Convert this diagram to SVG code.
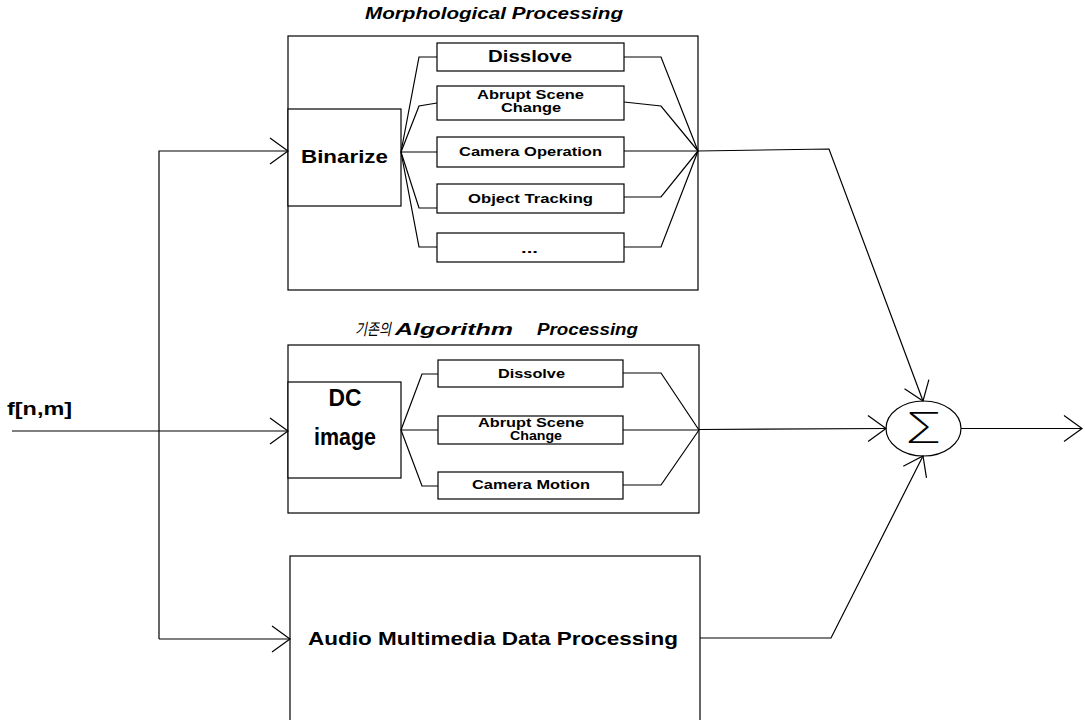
<svg xmlns="http://www.w3.org/2000/svg" width="1085" height="720" viewBox="0 0 1085 720">
<defs>
<style>
.box{fill:#fff;stroke:#000;stroke-width:1.2}
.ln{fill:none;stroke:#000;stroke-width:1.2}
.t{font-family:"Liberation Sans",Arial,sans-serif;font-weight:bold;fill:#000}
.ti{font-family:"Liberation Sans",Arial,"Noto Sans CJK KR",sans-serif;font-weight:bold;font-style:italic;fill:#000}
.s{font-size:13px}
</style>
<marker id="arr" viewBox="-20 -15 22 30" refX="0" refY="0" markerWidth="22" markerHeight="30" markerUnits="userSpaceOnUse" orient="auto">
<path d="M-18,-13 L0,0 L-18,13" fill="none" stroke="#000" stroke-width="1.2"/>
</marker>
</defs>
<rect width="1085" height="720" fill="#fff"/>

<g id="morph">
<text class="ti" x="365" y="19" font-size="16" textLength="258" lengthAdjust="spacingAndGlyphs">Morphological Processing</text>
<rect class="box" x="288" y="36" width="410" height="254"/>
<g id="binarize">
<rect class="box" x="288" y="109" width="113" height="97"/>
<text class="t" x="301" y="163" font-size="19" textLength="87" lengthAdjust="spacingAndGlyphs">Binarize</text>
</g>
<g id="m-disslove">
<rect class="box" x="437" y="43" width="187" height="28"/>
<text class="t" x="488" y="62" font-size="17" textLength="84" lengthAdjust="spacingAndGlyphs">Disslove</text>
</g>
<g id="m-abrupt">
<rect class="box" x="437" y="86" width="187" height="34"/>
<text class="t s" x="477" y="99" textLength="107" lengthAdjust="spacingAndGlyphs">Abrupt Scene</text>
<text class="t s" x="501" y="112" textLength="60" lengthAdjust="spacingAndGlyphs">Change</text>
</g>
<g id="m-camera">
<rect class="box" x="437" y="137" width="187" height="30"/>
<text class="t s" x="459" y="156" textLength="143" lengthAdjust="spacingAndGlyphs">Camera Operation</text>
</g>
<g id="m-object">
<rect class="box" x="437" y="184" width="187" height="29"/>
<text class="t s" x="468" y="203" textLength="125" lengthAdjust="spacingAndGlyphs">Object Tracking</text>
</g>
<g id="m-more">
<rect class="box" x="437" y="233" width="187" height="29"/>
<text class="t s" x="521" y="253" textLength="17" lengthAdjust="spacingAndGlyphs">...</text>
</g>
</g>

<g id="legacy">
<text class="ti" y="335" font-size="16"><tspan x="355" font-weight="normal" textLength="36" lengthAdjust="spacingAndGlyphs">기존의</tspan><tspan x="395" textLength="118" lengthAdjust="spacingAndGlyphs">Algorithm</tspan><tspan x="537" textLength="101" lengthAdjust="spacingAndGlyphs">Processing</tspan></text>
<rect class="box" x="288" y="345" width="411" height="168"/>
<g id="dcimage">
<rect class="box" x="288" y="382" width="113" height="96"/>
<text class="t" x="345" y="406" font-size="23" text-anchor="middle" textLength="33" lengthAdjust="spacingAndGlyphs">DC</text>
<text class="t" x="345" y="445" font-size="23" text-anchor="middle" textLength="62" lengthAdjust="spacingAndGlyphs">image</text>
</g>
<g id="d-dissolve">
<rect class="box" x="438" y="360" width="185" height="27"/>
<text class="t s" x="498" y="378" textLength="67" lengthAdjust="spacingAndGlyphs">Dissolve</text>
</g>
<g id="d-abrupt">
<rect class="box" x="438" y="416" width="185" height="28"/>
<text class="t s" x="478" y="427" textLength="106" lengthAdjust="spacingAndGlyphs">Abrupt Scene</text>
<text class="t s" x="510" y="440" textLength="52" lengthAdjust="spacingAndGlyphs">Change</text>
</g>
<g id="d-camera">
<rect class="box" x="438" y="472" width="185" height="27"/>
<text class="t s" x="472" y="489" textLength="118" lengthAdjust="spacingAndGlyphs">Camera Motion</text>
</g>
</g>

<g id="audio">
<rect class="box" x="290" y="556" width="410" height="175"/>
<text class="t" x="308" y="645" font-size="19" textLength="370" lengthAdjust="spacingAndGlyphs">Audio Multimedia Data Processing</text>
</g>

<g id="input">
<text class="t" x="7" y="415" font-size="18" textLength="65" lengthAdjust="spacingAndGlyphs">f[n,m]</text>
</g>

<g id="sum">
<ellipse class="box" cx="923.5" cy="428.5" rx="37.5" ry="27.5"/>
<text x="905" y="443" font-family="Inter,'DejaVu Sans',sans-serif" font-size="42" font-weight="200" textLength="37" lengthAdjust="spacingAndGlyphs" fill="#000">Σ</text>
</g>

<g id="connectors">
<line class="ln" x1="12" y1="431" x2="288" y2="431" marker-end="url(#arr)"/>
<polyline class="ln" points="159,639 159,151 288,151" marker-end="url(#arr)"/>
<line class="ln" x1="159" y1="639" x2="290" y2="639" marker-end="url(#arr)"/>
<polyline class="ln" points="401,152 419,57 437,57"/>
<polyline class="ln" points="401,152 419,106 437,103"/>
<line class="ln" x1="401" y1="152" x2="437" y2="152"/>
<polyline class="ln" points="401,152 419,208 437,208"/>
<polyline class="ln" points="401,152 419,247 437,247"/>
<polyline class="ln" points="624,57 661,57 698,151"/>
<polyline class="ln" points="624,102 661,106 698,151"/>
<line class="ln" x1="624" y1="151" x2="698" y2="151"/>
<polyline class="ln" points="624,197 661,197 698,151"/>
<polyline class="ln" points="624,247 661,247 698,151"/>
<polyline class="ln" points="401,430 422,374 438,374"/>
<line class="ln" x1="401" y1="430" x2="438" y2="430"/>
<polyline class="ln" points="401,430 422,486 438,486"/>
<polyline class="ln" points="623,373 661,373 699,430"/>
<line class="ln" x1="623" y1="430" x2="699" y2="430"/>
<polyline class="ln" points="623,485 661,485 699,430"/>
<polyline class="ln" points="698,151 829,149 923,401" marker-end="url(#arr)"/>
<line class="ln" x1="699" y1="429.5" x2="886" y2="428.5" marker-end="url(#arr)"/>
<polyline class="ln" points="700,638 831,638 923,456" marker-end="url(#arr)"/>
<line class="ln" x1="961" y1="428.5" x2="1082" y2="428.5" marker-end="url(#arr)"/>
</g>
</svg>
